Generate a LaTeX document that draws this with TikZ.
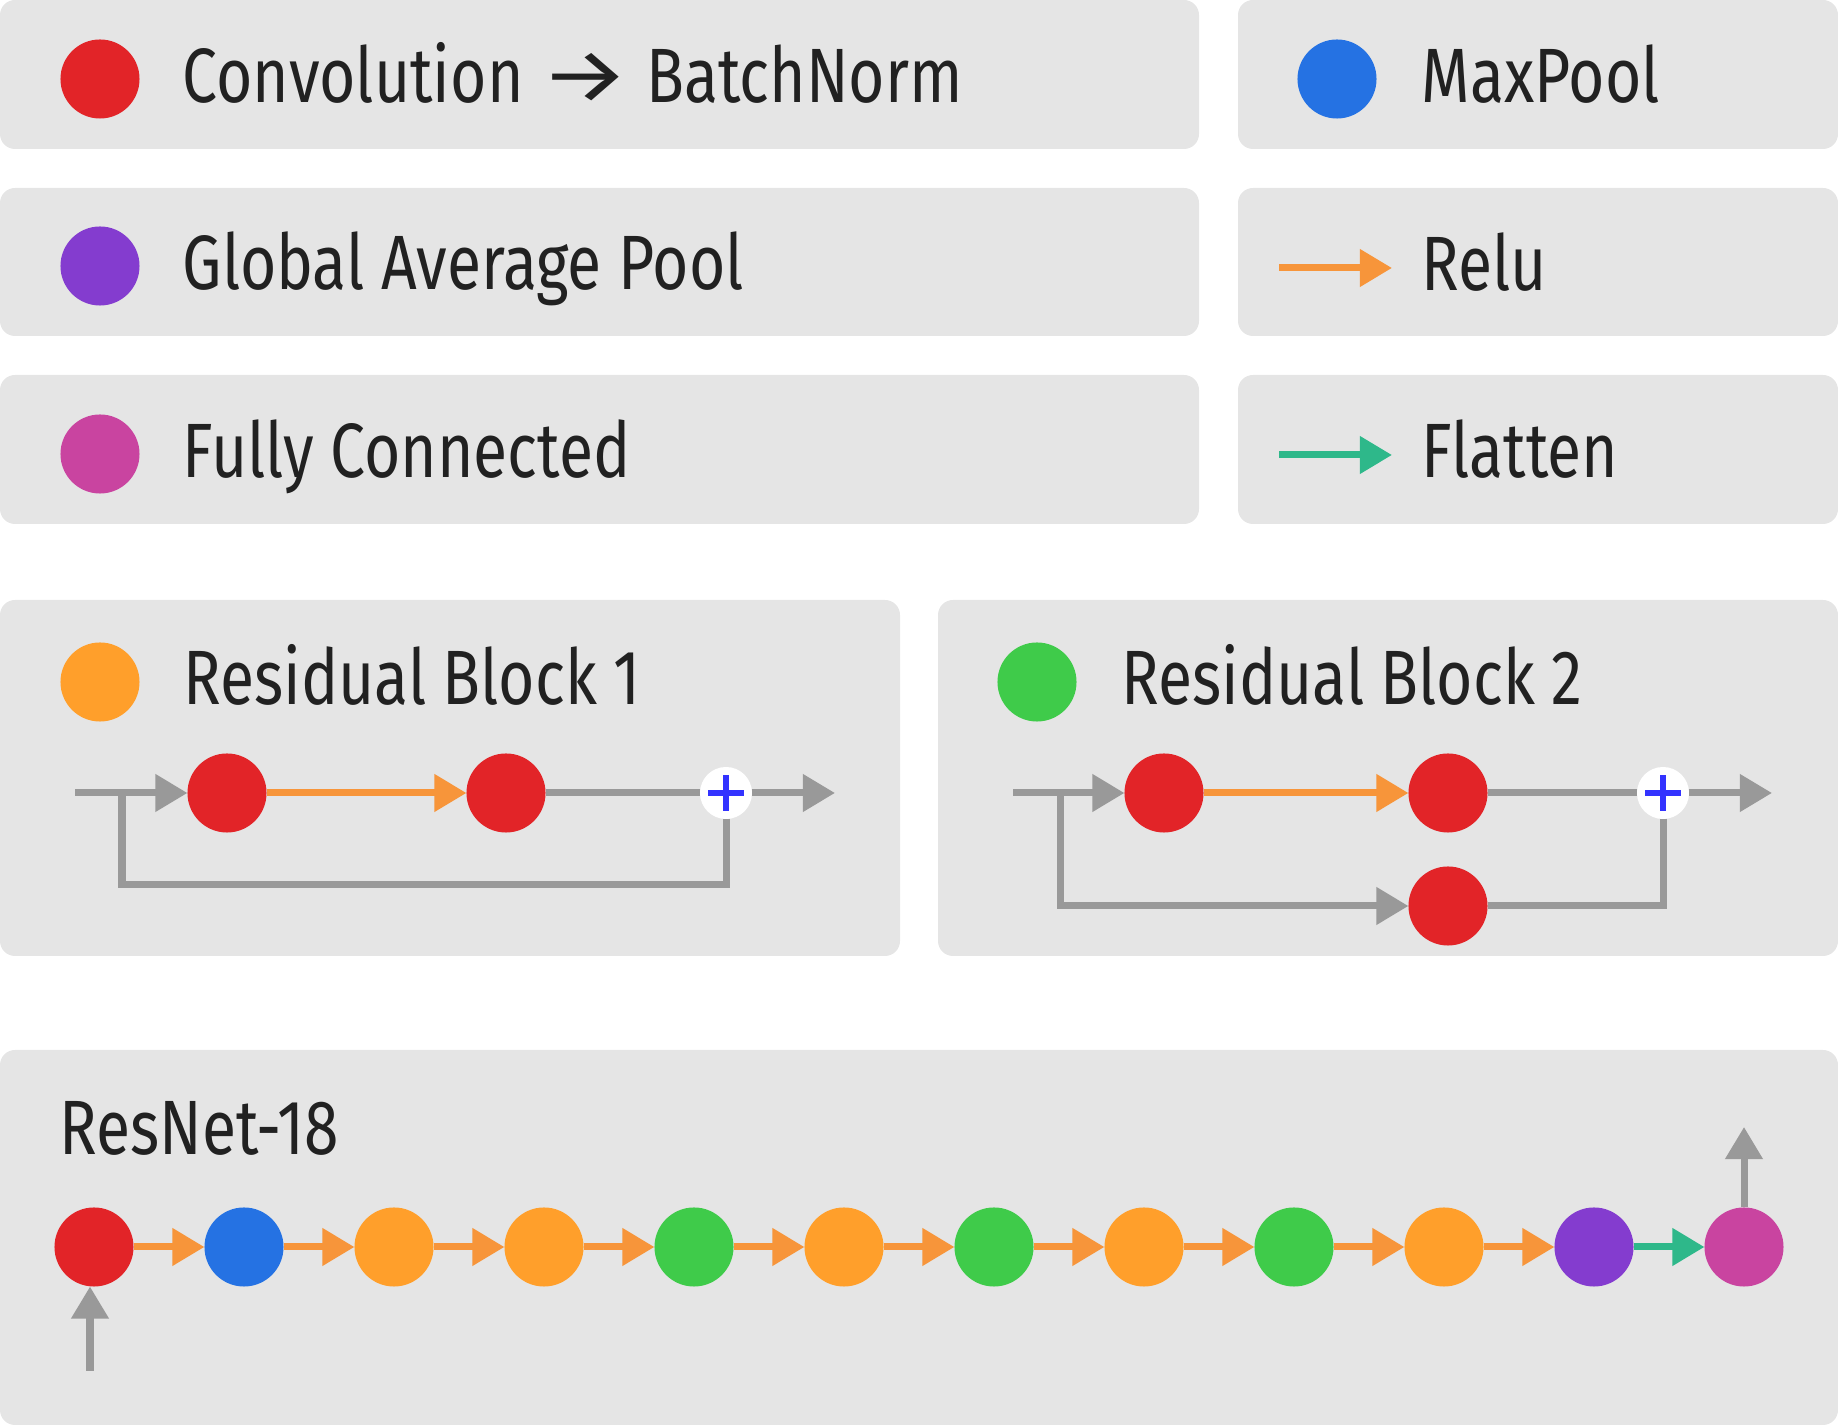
\documentclass[tikz,border=0pt]{standalone}
\usepackage{fontspec}
\usepackage{graphicx}
\setmainfont{Fira Sans}[FakeStretch=0.81]
\usetikzlibrary{arrows.meta}
\definecolor{panelgray}{HTML}{E5E5E5}
\definecolor{ink}{HTML}{212121}
\definecolor{convred}{HTML}{E22428}
\definecolor{poolblue}{HTML}{2572E3}
\definecolor{gappurple}{HTML}{843CCF}
\definecolor{fcpink}{HTML}{C944A0}
\definecolor{resorange}{HTML}{FF9F2B}
\definecolor{resgreen}{HTML}{3FCB4A}
\definecolor{reluorange}{HTML}{F7953A}
\definecolor{flatgreen}{HTML}{2EB88A}
\definecolor{wiregray}{HTML}{999999}
\definecolor{plusblue}{HTML}{3333FF}
\tikzset{
	panel/.style={fill=panelgray, rounded corners=0.15cm},
	dot/.style={circle, inner sep=0, outer sep=0, minimum size=0.79cm},
	addnode/.style={circle, fill=white, inner sep=0, outer sep=0, minimum size=0.52cm,
		path picture={\draw[plusblue, line width=0.06cm]
			([xshift=-0.175cm]path picture bounding box.center) -- ([xshift=0.175cm]path picture bounding box.center)
			([yshift=-0.175cm]path picture bounding box.center) -- ([yshift=0.175cm]path picture bounding box.center);}},
	lbl/.style={anchor=base west, inner sep=0, text=ink, font=\fontsize{21.9}{26}\selectfont},
	wire/.style={line width=0.07cm, draw=wiregray},
	flow/.style={line width=0.07cm, -{Triangle[length=0.32cm, width=0.36cm]}},
	grayflow/.style={flow, draw=wiregray},
	relu/.style={flow, draw=reluorange},
	flat/.style={flow, draw=flatgreen}
}

\begin{document}
\begin{tikzpicture}[x=0.01cm, y=-0.01cm]
		%%%%% START %%%%%
		\useasboundingbox (0, 0) rectangle (1838, 1425);
		
		% legend
		\fill[panel] (0, 0) rectangle (1199, 149);
		\fill[panel] (1238, 0) rectangle (1838, 149);
		\fill[panel] (0, 188) rectangle (1199, 336);
		\fill[panel] (1238, 188) rectangle (1838, 336);
		\fill[panel] (0, 375) rectangle (1199, 524);
		\fill[panel] (1238, 375) rectangle (1838, 524);
		
		\node[dot, fill=convred] (lconv) at (100, 79) {};
		\node[lbl] (tconv) at (182, 103) {Convolution \scalebox{1.6}[1]{→} BatchNorm};
		\node[dot, fill=gappurple] (lgap) at (100, 266) {};
		\node[lbl] (tgap) at (182, 290) {Global Average Pool};
		\node[dot, fill=fcpink] (lfc) at (100, 454) {};
		\node[lbl] (tfc) at (182, 478) {Fully Connected};
		
		\node[dot, fill=poolblue] (lpool) at (1337, 79) {};
		\node[lbl] (tpool) at (1421, 103) {MaxPool};
		\coordinate (relua) at (1279, 268);
		\coordinate (relub) at (1392, 268);
		\draw[relu] (relua) -- (relub);
		\node[lbl] (trelu) at (1421, 291) {Relu};
		\coordinate (flata) at (1279, 455);
		\coordinate (flatb) at (1392, 455);
		\draw[flat] (flata) -- (flatb);
		\node[lbl] (tflat) at (1421, 478) {Flatten};
		
		% residual block 1
		\fill[panel] (0, 600) rectangle (900, 956);
		\node[dot, fill=resorange] (lresa) at (100, 682) {};
		\node[lbl] (tresa) at (183, 705) {Residual Block 1};
		\coordinate (ain) at (75, 793);
		\coordinate (asplit) at (122, 793);
		\node[dot, fill=convred] (a1) at (227, 793) {};
		\node[dot, fill=convred] (a2) at (506, 793) {};
		\node[addnode] (aplus) at (726, 793) {};
		\coordinate (aout) at (835, 793);
		\coordinate (abot) at (726, 885);
		\draw[grayflow] (ain) -- (a1);
		\draw[relu] (a1) -- (a2);
		\draw[wire] (a2) -- (aplus);
		\draw[grayflow] (aplus) -- (aout);
		\draw[wire] (asplit) |- (abot) -- (aplus);
		
		% residual block 2
		\fill[panel] (938, 600) rectangle (1838, 956);
		\node[dot, fill=resgreen] (lresb) at (1037, 682) {};
		\node[lbl] (tresb) at (1121, 705) {Residual Block 2};
		\coordinate (bin) at (1013, 793);
		\coordinate (bsplit) at (1060, 793);
		\node[dot, fill=convred] (b1) at (1164, 793) {};
		\node[dot, fill=convred] (b2) at (1448, 793) {};
		\node[dot, fill=convred] (b3) at (1448, 906) {};
		\node[addnode] (bplus) at (1663, 793) {};
		\coordinate (bout) at (1772, 793);
		\draw[grayflow] (bin) -- (b1);
		\draw[relu] (b1) -- (b2);
		\draw[wire] (b2) -- (bplus);
		\draw[grayflow] (bplus) -- (bout);
		\draw[grayflow] (bsplit) |- (b3);
		\draw[wire] (b3) -| (bplus);
		
		% resnet-18
		\fill[panel] (0, 1050) rectangle (1838, 1425);
		\node[lbl] (tnet) at (59, 1155) {ResNet-18};
		\foreach \c [count=\i from 0] in {convred, poolblue, resorange, resorange, resgreen, resorange, resgreen, resorange, resgreen, resorange, gappurple, fcpink}
			\node[dot, fill=\c] (r\i) at ({94+150*\i}, 1247) {};
		\foreach \i [evaluate=\i as \j using int(\i+1)] in {0,...,9}
			\draw[relu] (r\i) -- (r\j);
		\draw[flat] (r10) -- (r11);
		
		\coordinate (netin) at (90, 1371);
		\coordinate (netout) at (1744, 1127);
		\draw[grayflow] (netin) -- (netin |- r0.south);
		\draw[grayflow] (r11) -- (netout);
		
		%%%%% END %%%%%
	\end{tikzpicture}
\end{document}
